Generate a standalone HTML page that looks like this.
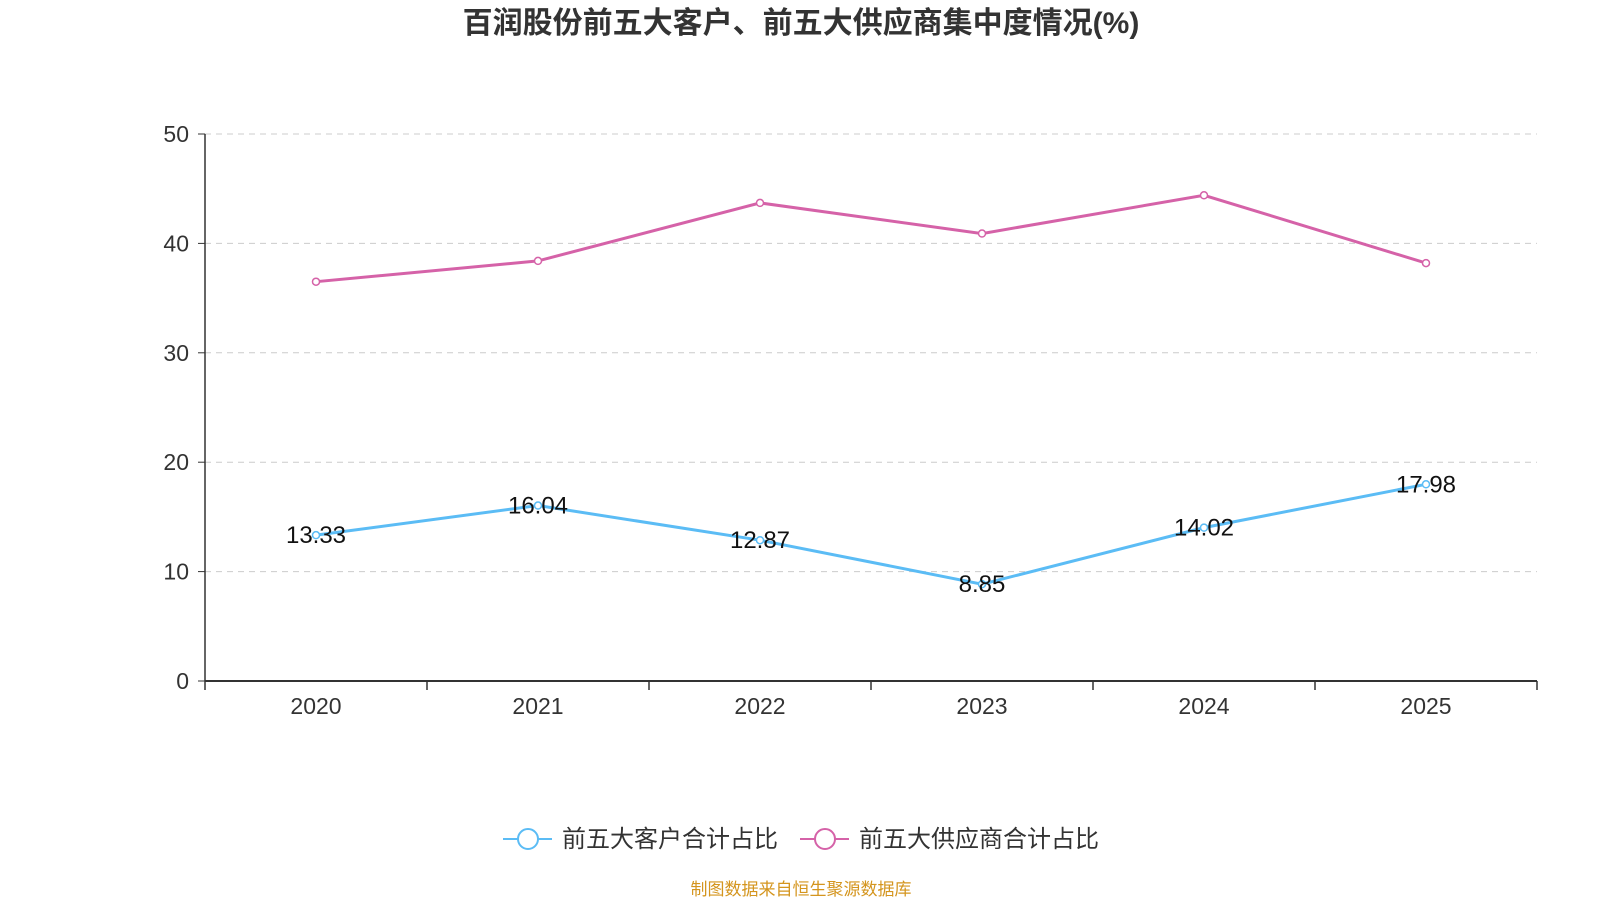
<!DOCTYPE html>
<html><head><meta charset="utf-8"><style>
body{margin:0;background:#fff;font-family:"Liberation Sans","Noto Sans CJK SC",sans-serif}
svg text{font-family:"Liberation Sans","Noto Sans CJK SC",sans-serif}
</style></head><body>
<svg id="c" width="1600" height="900">
<text x="801" y="33" text-anchor="middle" font-size="30" font-weight="bold" fill="#333">百润股份前五大客户、前五大供应商集中度情况(%)</text>
<g id="grid"></g><g id="axes"></g><g id="series"></g>
<g>
<line x1="503" y1="839" x2="552" y2="839" stroke="#5bbcf5" stroke-width="2"/>
<circle cx="528" cy="839" r="10" fill="#fff" stroke="#5bbcf5" stroke-width="2"/>
<text x="562" y="847" font-size="24" fill="#333">前五大客户合计占比</text>
<line x1="800" y1="839" x2="849" y2="839" stroke="#d562a8" stroke-width="2"/>
<circle cx="825" cy="839" r="10" fill="#fff" stroke="#d562a8" stroke-width="2"/>
<text x="859" y="847" font-size="24" fill="#333">前五大供应商合计占比</text>
</g>
<text x="801" y="895" text-anchor="middle" font-size="17" fill="#d4951e">制图数据来自恒生聚源数据库</text>
</svg>
<script>
const categories=["2020","2021","2022","2023","2024","2025"];
const customers=[13.33,16.04,12.87,8.85,14.02,17.98];
const suppliers=[36.5,38.4,43.7,40.9,44.4,38.2];
const yTicks=[0,10,20,30,40,50];
const NS="http://www.w3.org/2000/svg";
const L=205,R=1537,T=134,B=681,max=50;
const step=(R-L)/categories.length;
const x=i=>L+step*(i+0.5);
const y=v=>B-(B-T)*v/max;
function mk(t,a,p){const e=document.createElementNS(NS,t);for(const k in a)e.setAttribute(k,a[k]);p.appendChild(e);return e;}
const g=document.getElementById('grid'),ax=document.getElementById('axes'),s=document.getElementById('series');
yTicks.forEach(v=>{
 if(v>0){const l=mk('line',{x1:L,x2:R,y1:y(v),y2:y(v),stroke:'#ccc','stroke-dasharray':'6,5'},g);
 
 }
 mk('line',{x1:L-7,x2:L,y1:y(v),y2:y(v),stroke:'#333'},ax);
 const t=mk('text',{x:L-16,y:y(v)+8,'text-anchor':'end','font-size':23,fill:'#333'},ax);t.textContent=v;
 
 
});
mk('line',{x1:L,x2:L,y1:T,y2:B,stroke:'#333','stroke-width':1.5},ax);
mk('line',{x1:L,x2:R,y1:B,y2:B,stroke:'#333','stroke-width':2},ax);
for(let i=0;i<=categories.length;i++)mk('line',{x1:L+step*i,x2:L+step*i,y1:B,y2:B+9,stroke:'#333','stroke-width':1.5},ax);
categories.forEach((c,i)=>{const t=mk('text',{x:x(i),y:B+33,'text-anchor':'middle','font-size':23,fill:'#333'},ax);t.textContent=c;
 
 });
function line(vals,color,name,labels){
 const p=mk('polyline',{points:vals.map((v,i)=>x(i)+','+y(v)).join(' '),fill:'none',stroke:color,'stroke-width':3},s);
 
 
 vals.forEach((v,i)=>{const c=mk('circle',{cx:x(i),cy:y(v),r:3.5,fill:'#fff',stroke:color,'stroke-width':1.5},s);
  
  
  if(labels){const t=mk('text',{x:x(i),y:y(v)+8,'text-anchor':'middle','font-size':24,fill:'#111'},s);t.textContent=v.toFixed(2);
  
  }
 });
}
line(suppliers,'#d562a8','suppliers',false);
line(customers,'#5bbcf5','customers',true);
</script>
</body></html>
